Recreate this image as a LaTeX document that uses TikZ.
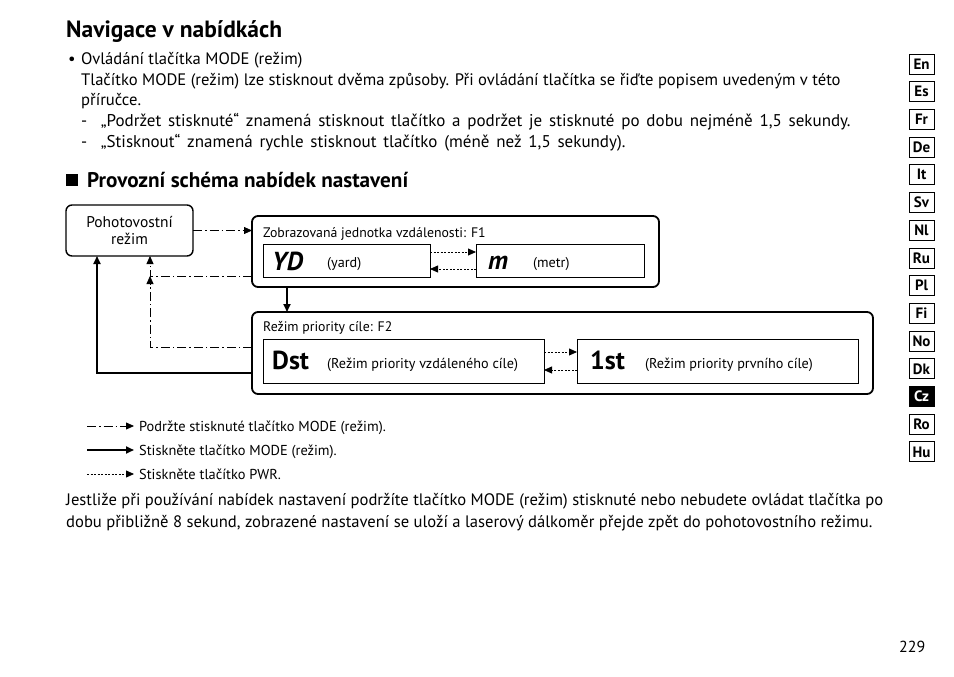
\documentclass[tikz,border=0pt]{standalone}
\usepackage{fontspec}
\setmainfont{PT Sans}
\usetikzlibrary{arrows.meta, positioning, calc}
\newcommand{\pxfont}[1]{\fontsize{#1}{#1}\selectfont}
\newcommand{\widefont}{\pxfont{17}\spaceskip=0.4em\relax}

\begin{document}
\begin{tikzpicture}[
  x=1pt, y=-1pt,
  txt/.style={inner sep=0pt, anchor=base west, font=\pxfont{16.6}},
  widetxt/.style={txt, font=\widefont},
  dtxt/.style={inner sep=0pt, anchor=base west, font=\pxfont{13.8}},
  small/.style={inner sep=0pt, anchor=base west, font=\pxfont{14.2}},
  legend/.style={inner sep=0pt, anchor=base west, font=\pxfont{14.4}},
  unitlbl/.style={inner sep=0pt, anchor=base west, font=\pxfont{26}\bfseries},
  outerbox/.style={draw, line width=1.8pt, rounded corners=6pt, anchor=north west,
                   inner sep=0pt, outer sep=0pt},
  unitbox/.style={draw, line width=0.9pt, anchor=north west, inner sep=0pt, outer sep=0pt},
  tab/.style={draw, line width=0.9pt, minimum width=25pt, minimum height=20pt,
              inner sep=0pt, font=\pxfont{15}\bfseries},
  tabon/.style={tab, fill=black, text=white},
  tip/.style={-{Triangle[length=8pt, width=7pt]}},
  hold/.style={tip, line width=0.8pt, dash pattern=on 9pt off 3pt on 1.5pt off 3pt},
  press/.style={tip, line width=1.8pt},
  pwr/.style={tip, line width=0.8pt, dash pattern=on 2pt off 1.5pt}
]
\useasboundingbox (0,0) rectangle (954,677);

% intro text
\node[inner sep=0pt, anchor=base west, font=\pxfont{23.5}\bfseries] (title) at (66,38) {Navigace v nabídkách};
\node[txt] (bul) at (68,65) {•};
\node[txt] (l1) at (81,65) {Ovládání tlačítka MODE (režim)};
\node[txt] (l2) at (81,86) {Tlačítko MODE (režim) lze stisknout dvěma způsoby. Při ovládání tlačítka se řiďte popisem uvedeným v této};
\node[txt] (l3) at (81,106) {příručce.};
\node[widetxt] (l4) at (81,127) {-\ \ „Podržet stisknuté“ znamená stisknout tlačítko a podržet je stisknuté po dobu nejméně 1,5 sekundy.};
\node[widetxt] (l5) at (81,147) {-\ \ „Stisknout“ znamená rychle stisknout tlačítko (méně než 1,5 sekundy).};
\node[fill=black, minimum size=12pt, inner sep=0pt, anchor=north west] (sq) at (66,174) {};
\node[inner sep=0pt, anchor=base west, font=\pxfont{21.2}\bfseries] (head) at (87,187) {Provozní schéma nabídek nastavení};

% schema
\node[draw, line width=1.4pt, rounded corners=6pt, anchor=north west, outer sep=0pt,
      minimum width=127pt, minimum height=51pt, align=center, font=\pxfont{15.5}] (standby) at (66,205)
      {Pohotovostní\\[1pt]režim};

\node[outerbox, minimum width=407pt, minimum height=71pt] (f1) at (252,216) {};
\node[dtxt] (f1t) at (263,237) {Zobrazovaná jednotka vzdálenosti: F1};
\node[unitbox, minimum width=167pt, minimum height=33pt] (yd) at (263,244) {};
\node[unitlbl] (ydl) at (272,270) {\itshape YD};
\node[small] (ydn) at (327,267) {(yard)};
\node[unitbox, minimum width=168pt, minimum height=33pt] (m) at (476,244) {};
\node[unitlbl] (ml) at (488,269) {\itshape m};
\node[small] (mn) at (533,267) {(metr)};

\node[outerbox, minimum width=621pt, minimum height=82pt] (f2) at (252,312) {};
\node[dtxt] (f2t) at (263,331) {Režim priority cíle: F2};
\node[unitbox, minimum width=281pt, minimum height=44pt] (dst) at (263,339) {};
\node[unitlbl] (dstl) at (272,369) {Dst};
\node[small] (dstn) at (327,368) {(Režim priority vzdáleného cíle)};
\node[unitbox, minimum width=281pt, minimum height=44pt] (first) at (577,339) {};
\node[unitlbl] (firstl) at (590,369) {1st};
\node[small] (firstn) at (645,368) {(Režim priority prvního cíle)};

\draw[hold] (standby.east) -- (standby.east -| f1.west);
\draw[press] ($(f1.south west)+(35,0)$) -- ($(f2.north west)+(35,0)$);
\draw[pwr] ($(yd.east)+(0,-8.5)$) -- ($(m.west)+(0,-8.5)$);
\draw[pwr] ($(m.west)+(0,8.5)$) -- ($(yd.east)+(0,8.5)$);
\draw[pwr] ($(dst.east)+(0,-9)$) -- ($(first.west)+(0,-9)$);
\draw[pwr] ($(first.west)+(0,9)$) -- ($(dst.east)+(0,9)$);
\draw[press] ($(f2.west)+(0,20)$) -| ($(standby.south west)+(31,0)$);
\draw[hold] ($(f2.west)+(0,-6)$) -| ($(standby.south west)+(84,20)$);
\draw[hold] ($(f1.west)+(0,24.5)$) -| ($(standby.south west)+(84,0)$);

% legend
\coordinate (lg1s) at (87,426);
\coordinate (lg2s) at (87,450);
\coordinate (lg3s) at (87,474);
\node[legend] (lg1) at (139,431) {Podržte stisknuté tlačítko MODE (režim).};
\node[legend] (lg2) at (139,455) {Stiskněte tlačítko MODE (režim).};
\node[legend] (lg3) at (139,479) {Stiskněte tlačítko PWR.};
\draw[hold] (lg1s) -- ($(lg1s -| lg1.west)+(-5,0)$);
\draw[press] (lg2s) -- ($(lg2s -| lg2.west)+(-5,0)$);
\draw[pwr] (lg3s) -- ($(lg3s -| lg3.west)+(-5,0)$);

% closing text
\node[txt] (p1) at (66,505) {Jestliže při používání nabídek nastavení podržíte tlačítko MODE (režim) stisknuté nebo nebudete ovládat tlačítka po};
\node[txt] (p2) at (66,527) {dobu přibližně 8 sekund, zobrazené nastavení se uloží a laserový dálkoměr přejde zpět do pohotovostního režimu.};
\node[inner sep=0pt, anchor=base west, font=\pxfont{16}] (page) at (899,652) {229};

% language tabs
\foreach \t/\s [count=\i] in {En/tab, Es/tab, Fr/tab, De/tab, It/tab, Sv/tab, Nl/tab, Ru/tab,
                              Pl/tab, Fi/tab, No/tab, Dk/tab, Cz/tabon, Ro/tab, Hu/tab}
  \node[\s] (tab\i) at (921.5,{64+(\i-1)*27.71}) {\t};
\end{tikzpicture}
\end{document}
